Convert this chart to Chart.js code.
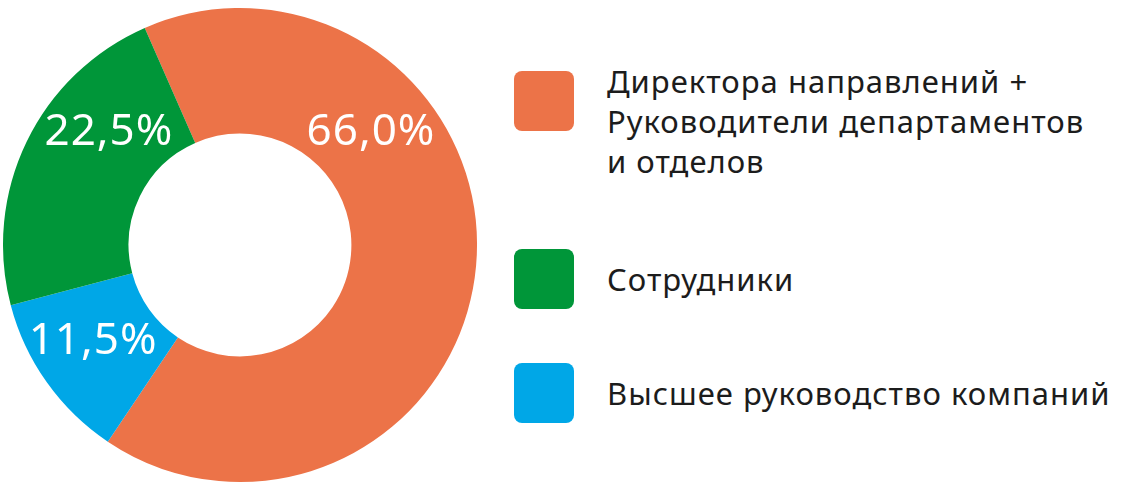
<!DOCTYPE html>
<html>
<head>
    <title>Doughnut with side legend</title>
    <script src="https://cdn.jsdelivr.net/npm/chart.js"></script>
    <style>
        body { margin: 0; background: #fff; font-family: "Noto Sans", sans-serif; }
        #wrap { position: relative; width: 1140px; height: 490px; }
        #chartBox { position: absolute; left: 0; top: 0; width: 480px; height: 490px; }
        #legend { position: absolute; left: 514px; top: 0; }
        .sw { position: absolute; left: 0; width: 60px; height: 60px; border-radius: 8px; }
        .txt { position: absolute; left: 93px; font-size: 31px; letter-spacing: 1px; line-height: 40px; color: #1c1c1c; white-space: nowrap; }
    </style>
</head>
<body>
<div id="wrap">
    <div id="chartBox"><canvas id="pie"></canvas></div>
    <div id="legend"></div>
</div>

<script>
// categories in legend order
const categories = ['Директора направлений + Руководители департаментов и отделов', 'Сотрудники', 'Высшее руководство компаний'];
const legendLines = [
    ['Директора направлений +', 'Руководители департаментов', 'и отделов'],
    ['Сотрудники'],
    ['Высшее руководство компаний']
];
const shares = [66.0, 22.5, 11.5];
const shareLabels = ['66,0%', '22,5%', '11,5%'];
const colors = ['#EC7348', '#009639', '#00A7E7'];
// order the slices go round the ring (clockwise)
const drawOrder = [0, 2, 1];
// where along its slice each label sits (0 = start, 1 = end)
const labelAlong = [0.305, 0.69, 0.57];

// legend: [square top, text top]
const legendTops = [[71, 61], [249, 259], [363, 373]];
const legend = document.getElementById('legend');
categories.forEach(function(c, i) {
    const sw = document.createElement('div');
    sw.className = 'sw';
    sw.style.background = colors[i];
    sw.style.top = legendTops[i][0] + 'px';
    const txt = document.createElement('div');
    txt.className = 'txt';
    txt.style.top = legendTops[i][1] + 'px';
    txt.innerHTML = legendLines[i].join('<br>');
    legend.appendChild(sw);
    legend.appendChild(txt);
});

const sliceLabels = {
    id: 'sliceLabels',
    afterDatasetsDraw(chart) {
        const ctx = chart.ctx;
        const meta = chart.getDatasetMeta(0);
        ctx.save();
        ctx.fillStyle = '#fff';
        ctx.font = '400 44px "Noto Sans"';
        ctx.letterSpacing = '1px';
        ctx.textAlign = 'center';
        ctx.textBaseline = 'alphabetic';
        meta.data.forEach(function(arc, j) {
            const k = drawOrder[j];
            const p = arc.getProps(['x', 'y', 'startAngle', 'endAngle', 'innerRadius', 'outerRadius'], true);
            const a = p.startAngle + (p.endAngle - p.startAngle) * labelAlong[k];
            const r = (p.innerRadius + p.outerRadius) / 2;
            ctx.fillText(shareLabels[k], p.x + Math.cos(a) * r, p.y + Math.sin(a) * r + 15);
        });
        ctx.restore();
    }
};

document.addEventListener("DOMContentLoaded", function() {
    new Chart(document.getElementById('pie'), {
        type: 'doughnut',
        data: {
            labels: drawOrder.map(i => categories[i]),
            datasets: [{
                data: drawOrder.map(i => shares[i]),
                backgroundColor: drawOrder.map(i => colors[i]),
                borderWidth: 0
            }]
        },
        options: {
            responsive: true,
            maintainAspectRatio: false,
            animation: false,
            rotation: -23.7,
            cutout: '47%',
            layout: { padding: 3 },
            plugins: {
                legend: { display: false },
                tooltip: { enabled: false }
            }
        },
        plugins: [sliceLabels]
    });
});
</script>
</body>
</html>
